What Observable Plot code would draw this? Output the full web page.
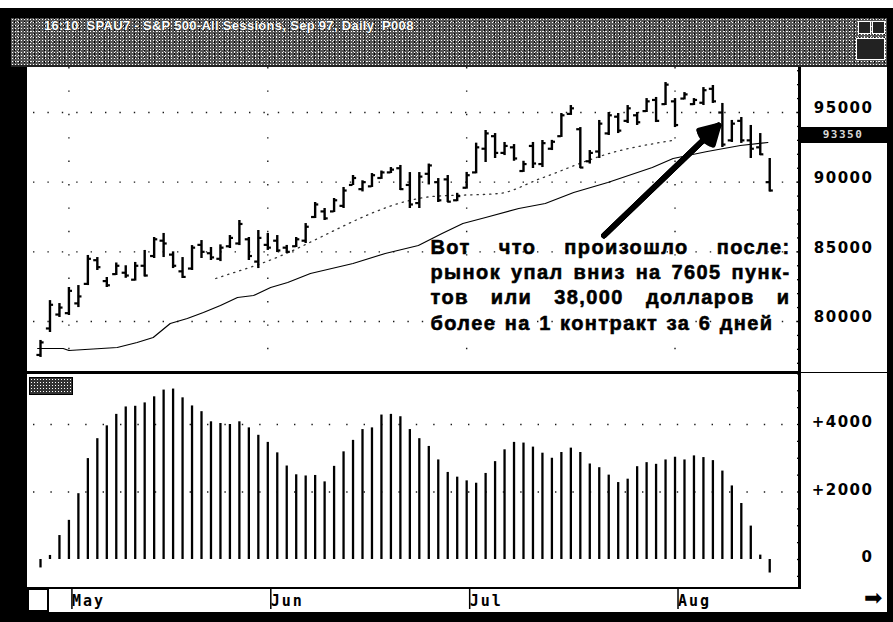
<!DOCTYPE html>
<html><head><meta charset="utf-8">
<script src="https://cdn.jsdelivr.net/npm/d3@7"></script>
<script src="https://cdn.jsdelivr.net/npm/@observablehq/plot@0.6"></script>
<style>
html,body{margin:0;padding:0;background:#000;}
body{width:893px;height:622px;position:relative;overflow:hidden;font-family:"Liberation Sans",Arial,sans-serif;}
.abs{position:absolute;}
#topmargin{left:0;top:0;width:893px;height:8px;background:#fff;}
#band{left:11px;top:18px;width:876px;height:48px;background-color:#555;
  background-image:radial-gradient(circle,#fff 0.7px,transparent 0.9px),radial-gradient(circle,#000 0.8px,transparent 1px),radial-gradient(circle,#ddd 0.6px,transparent 0.8px);
  background-size:3px 3px,5px 4px,7px 5px;background-position:0 0,1px 2px,3px 1px;}
#title{left:44px;top:18px;color:#fff;font:bold 13px "Liberation Sans",Arial,sans-serif;white-space:pre;letter-spacing:0.3px;text-shadow:0 0 1px #000;}
.icon{border:1.5px solid #fff;background:#222;}
#topsvg{left:27px;top:67px;}
#botsvg{left:27px;top:373px;}
.line{background:#000;}
#oscbox{left:29px;top:377px;width:42px;height:16px;border:1px solid #000;background-color:#333;
  background-image:radial-gradient(circle,#fff 0.7px,transparent 0.9px);background-size:3px 3px;}
#pricebox{left:799px;top:127px;width:88px;height:16px;background:#000;color:#d8d8d8;font:bold 11px "DejaVu Sans Mono",monospace;letter-spacing:1.5px;text-align:center;line-height:16px;}
#lbox{left:27px;top:588px;width:18px;height:20px;border:2px solid #000;background:#fff;}
#rarrow{left:864px;top:585px;font:22px "DejaVu Sans",sans-serif;color:#000;}
svg [aria-label="y-axis tick label"] text{letter-spacing:1.5px;}
svg [aria-label="x-axis tick label"] text{letter-spacing:2px;}
</style></head>
<body>
<div id="topmargin" class="abs"></div>
<div id="band" class="abs"></div>
<div id="title" class="abs">16:10  SPAU7 - S&amp;P 500-All Sessions, Sep 97, Daily  P008</div>
<div class="abs icon" style="left:858px;top:21px;width:11px;height:11px;"></div>
<div class="abs icon" style="left:872px;top:21px;width:11px;height:11px;"></div>
<div class="abs icon" style="left:856px;top:38px;width:27px;height:20px;"></div>
<div id="topsvg" class="abs"></div>
<div id="botsvg" class="abs"></div>
<script>
// ---- data ----
const monthLabels = ["May", "Jun", "Jul", "Aug"];
const monthStartIdx = [3, 24, 45, 67];

const highs = [78640,81500,81290,82440,82580,84740,84590,83160,84200,84000,
  84240,85100,86030,86320,85000,84590,85450,85810,85310,85500,
  86170,87250,86030,86530,86320,86170,85460,86030,87030,88540,
  88110,88830,89620,90480,90100,90620,90800,91050,91200,90690,
  90690,91300,90260,90480,89200,90700,92800,93710,93490,92850,
  92700,91500,92850,92990,93000,94930,95500,93920,92270,94430,
  95000,94930,95500,95000,96000,96080,97150,96000,96430,96000,
  96790,96940,95650,94430,94640,94070,93490,91700];
const lows = [77420,79210,80290,80430,81000,82580,83660,82440,83300,83100,
  82900,83200,84520,84590,83800,83090,83660,84520,84380,84300,
  85240,85450,84380,83800,85100,84950,84880,85310,85600,87390,
  87250,87820,88110,89760,89300,89620,90200,90620,89400,88110,
  88110,89800,88540,88540,88600,89500,90600,91410,91700,91910,
  91500,90700,90980,91050,92270,93210,94790,90980,91300,91700,
  93350,93490,94210,94070,95000,94280,95500,93920,95900,95500,
  95500,95650,92490,92850,92780,91700,91910,89300];
const opens = [77600,79500,80500,80600,81300,82700,84400,82900,83400,83500,
  83000,84000,84700,85800,84800,83600,83800,85500,84900,84500,
  85400,85600,85900,84300,85500,85800,85300,85400,85800,87500,
  87900,87900,88300,89800,89500,89700,90300,90700,91000,89800,
  88500,90600,90000,90200,88700,89600,90700,92400,93300,92100,
  92500,90800,92600,91300,92400,93300,94900,93800,91500,92200,
  93500,94700,94400,94800,95100,95900,95600,95800,96000,95600,
  95700,96700,95000,93000,94400,93000,92500,90000];
const closes = [78500,81200,81000,82200,81800,84500,83900,82600,84000,83300,
  84000,83300,85900,85600,84000,83200,85300,85000,84600,85300,
  86000,87000,84700,86000,85300,85100,85000,85900,86800,88400,
  87400,88700,89400,90300,90000,90500,90700,90900,89500,88400,
  90400,91200,88700,88600,89000,90500,92500,93500,92100,92600,
  91700,91300,91340,92800,92900,94800,95300,91050,92100,94200,
  94800,93700,95300,94300,95800,94400,97000,94100,96300,95900,
  96600,95800,92700,94200,93000,92400,92000,89400];

// slow moving average, read at sparse points (bar index, value)
const maSlowIdx = [-0.3,2.4,3.0,8.1,10.2,11.9,13.7,15.5,17.2,19.0,20.8,22.5,24.3,26.1,28.5,33.0,36.4,39.9,42.4,44.6,47.0,50.5,53.3,56.3,59.9,64.6,66.8,70.4,73.9,76.8];
const maSlowVal = [78062,78062,77919,78134,78493,78852,79857,80216,80646,81148,81722,81866,82440,82799,83445,84163,84880,85455,86316,87034,87464,88110,88469,89258,89976,91053,91699,92201,92632,92847];
// faint dotted faster average
const maFastIdx = [18.5,23.0,41.4,48.4,52.8,60.4,66.7];
const maFastVal = [83086,84091,88971,89187,90263,92129,92990];

// lower panel oscillator histogram
const oscillator = [-250,120,710,1160,1950,2990,3580,3960,4300,4520,
  4540,4640,4820,5020,5050,4790,4550,4380,4080,4030,
  4000,4080,3900,3680,3470,3160,2770,2510,2475,2490,
  2300,2760,3190,3530,3850,3900,4280,4300,4230,3850,
  3580,3350,2950,2580,2440,2330,2260,2550,2900,3250,
  3470,3450,3330,3150,3000,3170,3300,3170,2830,2720,
  2500,2280,2380,2750,2870,2820,2950,3030,2950,3070,
  3020,2930,2620,2180,1660,990,130,-400];

const priceTicks = [80000, 85000, 90000, 95000];
const priceMinor = d3.range(77000, 98001, 1000);
const oscTicks = [0, 2000, 4000];
const oscMinor = d3.range(-500, 5501, 500);
const markerValue = 93350;

const noteLines = ["Вот что произошло после:", "рынок упал вниз на 7605 пунк-", "тов или 38,000 долларов и", "более на 1 контракт за 6 дней"];

// ---- build ----
const bars = highs.map((h, i) => ({i, h, l: lows[i], o: opens[i], c: closes[i]}));
const maSlow = maSlowIdx.map((x, k) => ({x, v: maSlowVal[k]}));
const maFast = maFastIdx.map((x, k) => ({x, v: maFastVal[k]}));
const xDomain = [-0.74, 80.25];
const note = {x: 41.18, y: [85311, 83517, 81723, 79857], widths: [360, 360, 360, 343]};
const arrowSpec = [{x1: 59.5, y1: 86172, x2: 71.6, y2: 94067}];
const headAngles = [60, 45, 30, 15];
const monthName = new Map(monthStartIdx.map((d, k) => [d, monthLabels[k]]));

const axisFont = {fontFamily: "DejaVu Sans", fontWeight: "bold", fontSize: 15};

const topPlot = Plot.plot({
  width: 860, height: 305,
  marginLeft: 6, marginRight: 87, marginTop: 0, marginBottom: 0,
  x: {domain: xDomain, axis: null},
  y: {domain: [76340, 98230], axis: null},
  style: {background: "#fff", overflow: "visible", color: "#000"},
  marks: [
    Plot.gridY(priceTicks, {stroke: "#000", strokeOpacity: 0.9, strokeWidth: 1.4, strokeDasharray: "1.4,13"}),
    Plot.gridX(monthStartIdx, {stroke: "#000", strokeOpacity: 0.9, strokeWidth: 1.4, strokeDasharray: "1.4,22"}),
    Plot.line(maFast, {x: "x", y: "v", curve: "monotone-x", stroke: "#333", strokeWidth: 1.3, strokeDasharray: "1.3,5"}),
    Plot.line(maSlow, {x: "x", y: "v", stroke: "#000", strokeWidth: 1.2}),
    Plot.ruleX(bars, {x: "i", y1: "l", y2: "h", stroke: "#000", strokeWidth: 2.4}),
    Plot.ruleY(bars, {y: "o", x1: d => d.i - 0.38, x2: "i", stroke: "#000", strokeWidth: 2.2}),
    Plot.ruleY(bars, {y: "c", x1: "i", x2: d => d.i + 0.38, stroke: "#000", strokeWidth: 2.2}),
    ...headAngles.map(a => Plot.arrow(arrowSpec, {x1: "x1", y1: "y1", x2: "x2", y2: "y2", stroke: "#000", strokeWidth: 5.5, headLength: 5.5, headAngle: a})),
    Plot.text(noteLines, {x: () => note.x, y: (d, k) => note.y[k], text: d => d, textAnchor: "start", lineAnchor: "middle",
      fontFamily: "Liberation Sans", fontWeight: "bold", fontSize: 20, fill: "#000", stroke: "#000", strokeWidth: 0.55}),
    Plot.axisY(priceMinor, {anchor: "right", tickSize: -4, tickFormat: () => "", stroke: "#000", strokeWidth: 1.3}),
    Plot.axisY(priceTicks, {anchor: "right", tickSize: 0, tickPadding: 73, textAnchor: "end", dy: -4, tickFormat: d => String(d), fill: "#000", ...axisFont})
  ]
});
document.getElementById("topsvg").appendChild(topPlot);

const botPlot = Plot.plot({
  width: 860, height: 239,
  marginLeft: 6, marginRight: 87, marginTop: 0, marginBottom: 24,
  x: {domain: xDomain, axis: null},
  y: {domain: [-859, 5511], axis: null},
  style: {background: "#fff", overflow: "visible", color: "#000"},
  marks: [
    Plot.gridY([2000, 4000], {stroke: "#000", strokeOpacity: 0.9, strokeWidth: 1.4, strokeDasharray: "1.4,16"}),
    Plot.ruleX(oscillator, {x: (d, i) => i, y1: 0, y2: d => d, stroke: "#000", strokeWidth: 2.3}),
    Plot.axisY(oscMinor, {anchor: "right", tickSize: -4, tickFormat: () => "", stroke: "#000", strokeWidth: 1.3}),
    Plot.axisY(oscTicks, {anchor: "right", tickSize: 0, tickPadding: 73, textAnchor: "end", dy: -2, tickFormat: d => d > 0 ? "+" + d : String(d), fill: "#000", ...axisFont}),
    Plot.axisX(monthStartIdx, {anchor: "bottom", tickSize: 21, tickPadding: -14, textAnchor: "start", dx: 3,
      tickFormat: d => monthName.get(d), stroke: "#000", strokeWidth: 1.5, fill: "#000",
      fontFamily: "DejaVu Sans Mono", fontWeight: "bold", fontSize: 15})
  ]
});
document.getElementById("botsvg").appendChild(botPlot);

// justify the annotation lines (word spacing)
Array.from(topPlot.querySelectorAll("text")).forEach(el => {
  const k = noteLines.indexOf(el.textContent.trim());
  if (k < 0) return;
  el.setAttribute("letter-spacing", "1.4");
  el.style.letterSpacing = "1.4px";
  const w = el.getBBox().width;
  const spaces = (noteLines[k].match(/ /g) || []).length;
  const ws = ((note.widths[k] - w) / spaces).toFixed(2);
  el.setAttribute("word-spacing", ws);
  el.style.wordSpacing = ws + "px";
});

// frame lines and small widgets
const add = (css, cls = "abs line", html = "") => {
  const d = document.createElement("div"); d.className = cls; d.style.cssText = css; d.innerHTML = html;
  document.body.appendChild(d); return d;
};
add("left:11px;top:65px;width:876px;height:2px;background:#222;");
add("left:27px;top:371px;width:773px;height:3px;");
add("left:798px;top:67px;width:3px;height:522px;");
add("left:27px;top:587px;width:773px;height:2px;");
add("", "abs", "").id = "oscbox";
const pb = add("", "abs", String(markerValue)); pb.id = "pricebox";
add("", "abs").id = "lbox";
const ra = add("", "abs", "\u27A1"); ra.id = "rarrow";
</script>
</body></html>
